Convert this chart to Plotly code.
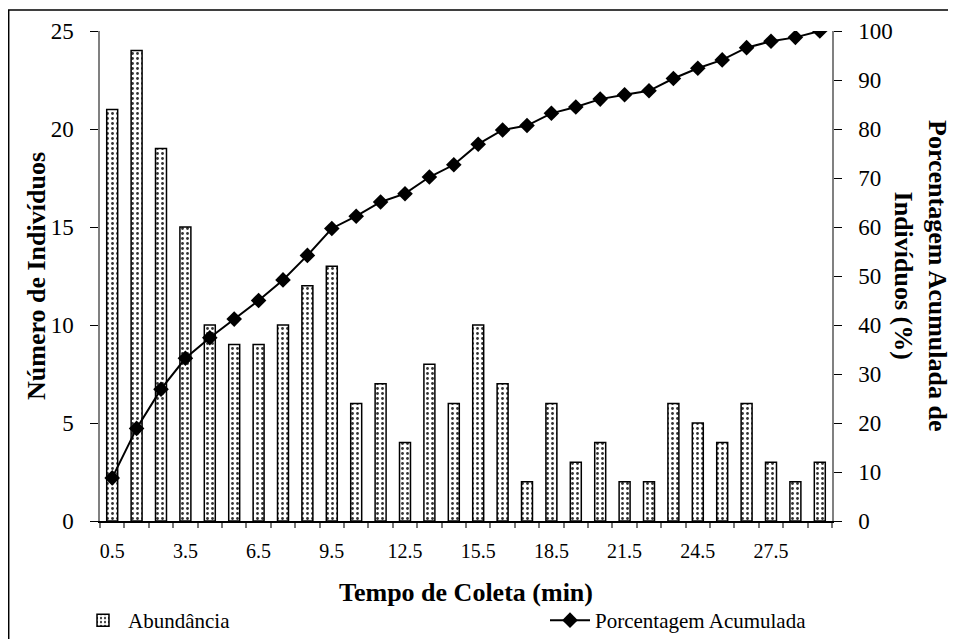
import plotly.graph_objects as go

# tempo de coleta (min), centro de cada intervalo
tempo = [0.5 + i for i in range(30)]
abundancia = [21, 24, 19, 15, 10, 9, 9, 10, 12, 13, 6, 7, 4, 8, 6,
              10, 7, 2, 6, 3, 4, 2, 2, 6, 5, 4, 6, 3, 2, 3]
porcentagem = [8.8, 18.9, 26.9, 33.2, 37.4, 41.2, 45.0, 49.2, 54.2, 59.7,
               62.2, 65.1, 66.8, 70.2, 72.7, 76.9, 79.8, 80.7, 83.2, 84.5,
               86.1, 87.0, 87.8, 90.3, 92.4, 94.1, 96.6, 97.9, 98.7, 100.0]
tick_labels = ["0.5", "3.5", "6.5", "9.5", "12.5", "15.5", "18.5", "21.5", "24.5", "27.5"]
tick_vals = [float(t) for t in tick_labels]

FONT = "Liberation Serif"
# the page body adds 8px around the figure, so margins are shifted by that
L, R, T, B = 92, 132, 23, 126
PW, PH = 956 - L - R, 639 - T - B


def px(xfig):
    return (xfig - L) / PW


def py(yfig):
    return (T + PH - yfig) / PH


fig = go.Figure()
fig.add_trace(go.Bar(
    x=tempo, y=abundancia, name="Abundância", legend="legend",
    marker=dict(color="white", line=dict(color="black", width=1.5),
                pattern=dict(shape=".", fgcolor="#333", bgcolor="white", size=5, solidity=0.25)),
    width=0.45,
))
fig.add_trace(go.Scatter(
    x=tempo, y=porcentagem, name="Porcentagem Acumulada", yaxis="y2", legend="legend2",
    mode="lines+markers",
    line=dict(color="black", width=2),
    marker=dict(symbol="diamond", size=12, color="black"),
))

leg = dict(orientation="h", yanchor="top", y=py(592),
           bgcolor="rgba(0,0,0,0)", itemwidth=40,
           font=dict(family=FONT, size=21, color="black"))

title_font = dict(family=FONT, size=26, color="black")

fig.update_layout(
    template="none",
    width=956, height=639,
    margin=dict(l=L, r=R, t=T, b=B, autoexpand=False),
    paper_bgcolor="white", plot_bgcolor="white",
    font=dict(family=FONT, size=21, color="black"),
    showlegend=True,
    legend=dict(leg, x=px(70), xanchor="left"),
    legend2=dict(leg, x=px(537), xanchor="left"),
    xaxis=dict(
        automargin=False,
        range=[0, 30], tickvals=tick_vals, ticktext=tick_labels,
        ticks="", showgrid=False, zeroline=False,
        showline=True, linecolor="black", linewidth=1.5,
        minor=dict(tick0=0, dtick=1, ticks="outside", ticklen=5, tickcolor="#777", tickwidth=1.5),
        tickfont=dict(family=FONT, size=20), ticklabelstandoff=11,
    ),
    yaxis=dict(
        automargin=False,
        range=[0, 25], dtick=5, ticks="outside", ticklen=8, tickcolor="black",
        showgrid=False, zeroline=False,
        showline=True, linecolor="#808080", linewidth=1.5,
        tickfont=dict(family=FONT, size=23), ticklabelstandoff=12,
    ),
    yaxis2=dict(
        automargin=False,
        range=[0, 100], dtick=10, overlaying="y", side="right",
        ticks="outside", ticklen=8, tickcolor="black",
        showgrid=False, zeroline=False,
        showline=True, linecolor="#808080", linewidth=1.5,
        tickfont=dict(family=FONT, size=23), ticklabelstandoff=12,
    ),
    annotations=[
        dict(text="<b>Tempo de Coleta (min)</b>", xref="paper", yref="paper",
             x=0.5, y=py(584), xanchor="center", yanchor="middle",
             showarrow=False, font=title_font),
        dict(text="<b>Número de Indivíduos</b>", xref="paper", yref="paper",
             x=px(28), y=0.5, xanchor="center", yanchor="middle", textangle=-90,
             showarrow=False, font=title_font),
        dict(text="<b>Porcentagem Acumulada de<br>Indivíduos (%)</b>",
             xref="paper", yref="paper", x=px(913), y=0.5,
             xanchor="center", yanchor="middle", textangle=90, showarrow=False,
             font=title_font),
    ],
    shapes=[dict(
        type="rect", xref="paper", yref="paper",
        x0=px(0.7), x1=px(1000), y0=py(700), y1=py(2),
        line=dict(color="black", width=1.5), fillcolor="rgba(0,0,0,0)", layer="above",
    )],
)

fig.write_html("out.html")
